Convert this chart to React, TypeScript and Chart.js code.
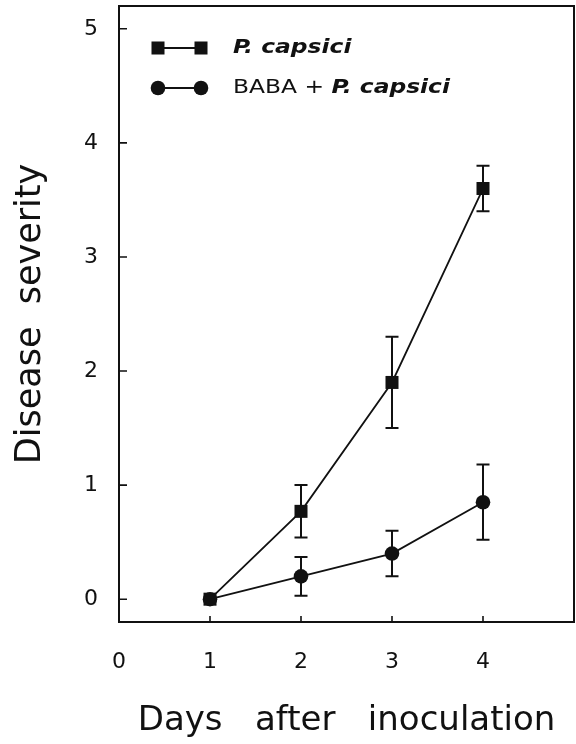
import React, { useEffect, useRef } from 'react';
import { Chart, registerables } from 'chart.js';

Chart.register(...registerables);

// ---- data ----
const days = [1, 2, 3, 4];
const pCapsici = [0, 0.77, 1.9, 3.6];
const pCapsiciErr = [0, 0.23, 0.4, 0.2];
const baba = [0, 0.2, 0.4, 0.85];
const babaErr = [0, 0.17, 0.2, 0.33];
const xTicks = [0, 1, 2, 3, 4];
const yTicks = [0, 1, 2, 3, 4, 5];
const legendRows = [
  [{ t: 'P. capsici', it: true }],
  [{ t: 'BABA + ', it: false }, { t: 'P. capsici', it: true }],
];

const FONT = '"DejaVu Sans", "Liberation Sans", sans-serif';
const INK = '#111';

const decor = {
  id: 'decor',
  beforeDatasetsDraw(chart: any) {
    const { ctx, scales } = chart;
    const xs = scales.x;
    const ys = scales.y;
    ctx.save();
    ctx.strokeStyle = INK;
    ctx.lineWidth = 2;
    chart.data.datasets.forEach((ds: any) => {
      const err: number[] = ds.errors;
      ds.data.forEach((p: any, i: number) => {
        if (!err[i]) return;
        const px = xs.getPixelForValue(p.x);
        const t = ys.getPixelForValue(p.y + err[i]);
        const b = ys.getPixelForValue(p.y - err[i]);
        ctx.beginPath();
        ctx.moveTo(px, t);
        ctx.lineTo(px, b);
        ctx.moveTo(px - 6.5, t);
        ctx.lineTo(px + 6.5, t);
        ctx.moveTo(px - 6.5, b);
        ctx.lineTo(px + 6.5, b);
        ctx.stroke();
      });
    });
    ctx.restore();
  },
  afterDraw(chart: any) {
    const { ctx, chartArea: a, scales } = chart;
    const xs = scales.x;
    const ys = scales.y;
    ctx.save();
    ctx.strokeStyle = INK;
    ctx.lineWidth = 2;
    // top and right frame
    ctx.beginPath();
    ctx.moveTo(a.left, a.top);
    ctx.lineTo(a.right, a.top);
    ctx.lineTo(a.right, a.bottom);
    ctx.stroke();
    // inward ticks
    ctx.lineWidth = 1.6;
    ctx.beginPath();
    yTicks.forEach((v) => {
      const py = ys.getPixelForValue(v);
      ctx.moveTo(a.left, py);
      ctx.lineTo(a.left + 8, py);
    });
    xTicks.forEach((v) => {
      if (v === 0) return;
      const px = xs.getPixelForValue(v);
      ctx.moveTo(px, a.bottom);
      ctx.lineTo(px, a.bottom - 6);
    });
    ctx.stroke();

    // legend
    const lx1 = a.left + 39;
    const lx2 = a.left + 82;
    const tx = a.left + 114;
    chart.data.datasets.forEach((ds: any, i: number) => {
      const y = a.top + 42 + i * 40;
      ctx.strokeStyle = ds.borderColor;
      ctx.fillStyle = ds.pointBackgroundColor;
      ctx.lineWidth = ds.borderWidth;
      ctx.beginPath();
      ctx.moveTo(lx1, y);
      ctx.lineTo(lx2, y);
      ctx.stroke();
      [lx1, lx2].forEach((cx) => {
        if (ds.pointStyle === 'rect') {
          const s = ds.pointRadius * Math.SQRT1_2;
          ctx.fillRect(cx - s, y - s, 2 * s, 2 * s);
        } else {
          ctx.beginPath();
          ctx.arc(cx, y, ds.pointRadius, 0, Math.PI * 2);
          ctx.fill();
        }
      });
      ctx.save();
      ctx.translate(tx, y);
      ctx.scale(1.3, 1.05);
      ctx.fillStyle = INK;
      ctx.textBaseline = 'middle';
      ctx.textAlign = 'left';
      let off = 0;
      legendRows[i].forEach((part) => {
        ctx.font = part.it ? `italic bold 18px ${FONT}` : `18px ${FONT}`;
        ctx.fillText(part.t, off, 0);
        off += ctx.measureText(part.t).width;
      });
      ctx.restore();
    });
    ctx.restore();
  },
};

const zeroPad = (s: any) => {
  s.paddingTop = 0;
  s.paddingBottom = 0;
  s.paddingLeft = 0;
  s.paddingRight = 0;
};

export default function App() {
  const ref = useRef<HTMLCanvasElement>(null);
  useEffect(() => {
    const chart = new Chart(ref.current as HTMLCanvasElement, {
      type: 'line',
      data: {
        datasets: [
          {
            label: 'P. capsici',
            data: days.map((d, i) => ({ x: d, y: pCapsici[i] })),
            errors: pCapsiciErr,
            borderColor: INK,
            borderWidth: 1.8,
            pointStyle: 'rect',
            pointRadius: 9.2,
            pointBackgroundColor: INK,
            pointBorderWidth: 0,
            tension: 0,
          } as any,
          {
            label: 'BABA + P. capsici',
            data: days.map((d, i) => ({ x: d, y: baba[i] })),
            errors: babaErr,
            borderColor: INK,
            borderWidth: 1.8,
            pointStyle: 'circle',
            pointRadius: 7.3,
            pointBackgroundColor: INK,
            pointBorderWidth: 0,
            tension: 0,
          } as any,
        ],
      },
      options: {
        animation: false,
        responsive: false,
        layout: { autoPadding: false, padding: { top: 6, right: 2, left: 0, bottom: 0 } },
        plugins: { legend: { display: false }, tooltip: { enabled: false } },
        scales: {
          x: {
            type: 'linear',
            min: 0,
            max: 5,
            afterBuildTicks: (s: any) => {
              s.ticks = xTicks.map((v) => ({ value: v }));
            },
            afterFit: (s: any) => {
              s.height = 122;
              zeroPad(s);
            },
            grid: { display: false, drawTicks: false },
            border: { display: true, color: INK, width: 2 },
            ticks: { padding: 27, color: INK, font: { family: FONT, size: 22 } },
            title: {
              display: true,
              text: 'Days   after   inoculation',
              color: INK,
              font: { family: FONT, size: 34 },
              padding: { top: 0, bottom: 2 },
            },
          },
          y: {
            type: 'linear',
            min: -0.2,
            max: 5.2,
            afterBuildTicks: (s: any) => {
              s.ticks = yTicks.map((v) => ({ value: v }));
            },
            afterFit: (s: any) => {
              s.width = 119;
              zeroPad(s);
            },
            grid: { display: false, drawTicks: false },
            border: { display: true, color: INK, width: 2 },
            ticks: { padding: 21, color: INK, font: { family: FONT, size: 22 } },
            title: {
              display: true,
              text: 'Disease  severity',
              color: INK,
              font: { family: FONT, size: 35 },
              padding: { top: 10, bottom: 0 },
            },
          },
        },
      } as any,
      plugins: [decor],
    });
    return () => chart.destroy();
  }, []);
  return (
    <div style={{ position: 'absolute', left: 0, top: 0, width: 576, height: 744, background: '#fff' }}>
      <canvas ref={ref} width={576} height={744} style={{ display: 'block' }} />
    </div>
  );
}
